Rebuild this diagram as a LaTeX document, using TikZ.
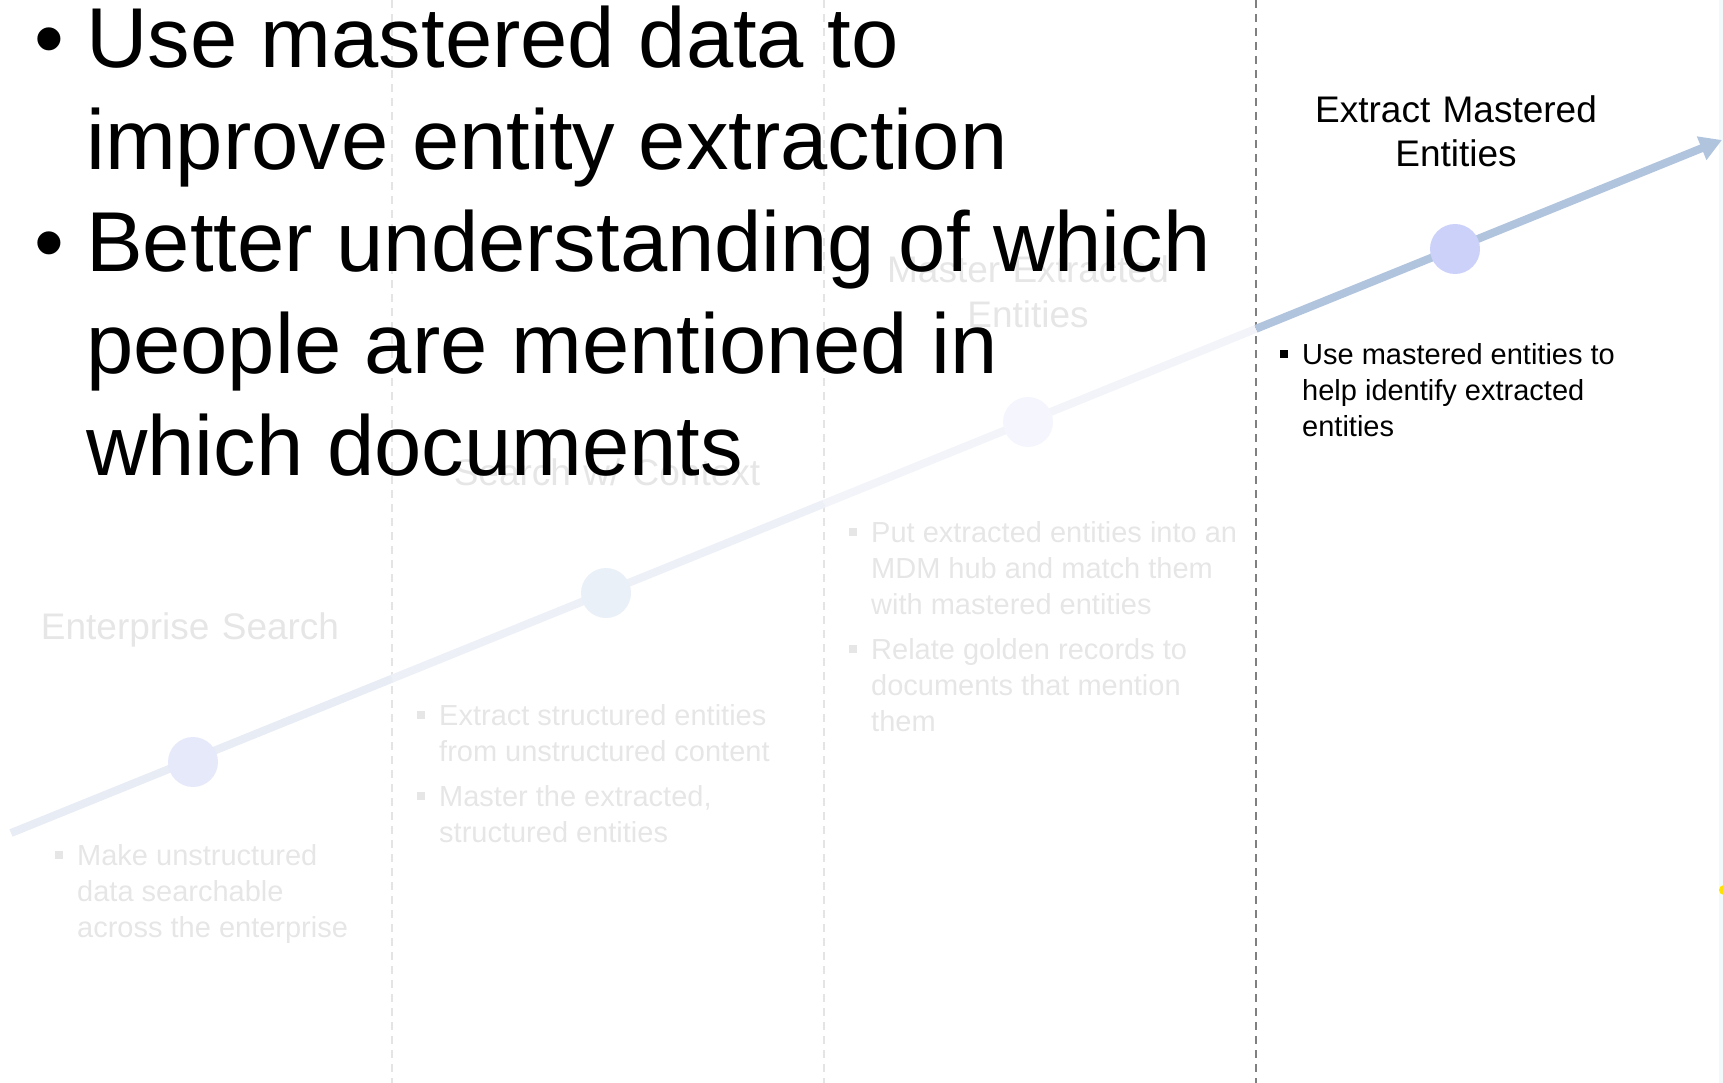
\documentclass[tikz,border=0pt]{standalone}
\usepackage{fontspec}
\setmainfont{Liberation Sans}
\usetikzlibrary{arrows.meta}
\definecolor{tlone}{RGB}{232,236,244}
\definecolor{tltwo}{RGB}{237,241,247}
\definecolor{tlthree}{RGB}{242,244,249}
\definecolor{tlfour}{RGB}{176,196,222}
\definecolor{dotone}{RGB}{230,233,250}
\definecolor{dottwo}{RGB}{234,240,248}
\definecolor{dotthree}{RGB}{245,246,253}
\definecolor{dotfour}{RGB}{204,209,250}
\definecolor{fadetext}{RGB}{230,230,230}
\definecolor{fadediv}{RGB}{228,228,228}
\definecolor{darkdiv}{RGB}{128,128,128}
\definecolor{edgecyan}{RGB}{240,250,250}
\newcommand{\sqitem}[1]{\spaceskip=0pt\xspaceskip=0pt\hangindent=22pt\hangafter=1\noindent\makebox[22pt][l]{\rule[6pt]{8pt}{8pt}}#1\par\vspace{9pt}}
\newcommand{\bigitem}[1]{\spaceskip=0pt\xspaceskip=0pt\hangindent=52pt\hangafter=1\noindent\makebox[52pt][l]{\textbullet}#1\par}

\begin{document}
\begin{tikzpicture}[x=1pt,y=-1pt,
    stagedot/.style={circle,fill=#1,minimum size=50pt,inner sep=0pt},
    stagehead/.style={text width=440pt,align=center,anchor=base,inner sep=0pt,font=\fontsize{37}{44}\selectfont},
    stagenote/.style={text width=410pt,align=left,anchor=base west,inner sep=0pt,font=\fontsize{29}{36}\selectfont},
    goal/.style={text width=1400pt,align=left,anchor=base west,inner sep=0pt,font=\fontsize{85}{102}\selectfont},
    divider/.style={line width=2pt,dash pattern=on 8pt off 6pt},
    timeline/.style={line width=8pt}]
  \useasboundingbox (0,0) rectangle (1723,1083);
  \fill[edgecyan] (1719,0) rectangle (1723,1083);
  \fill[yellow!85!orange] (1724,890) circle (5);

  \draw[divider,fadediv] (392,0) -- (392,1083);
  \draw[divider,fadediv] (824,0) -- (824,1083);
  \draw[divider,darkdiv] (1256,0) -- (1256,1083);

  \coordinate (start) at (11,833);
  \coordinate (cut1) at (392,678.7);
  \coordinate (cut2) at (824,503.7);
  \coordinate (cut3) at (1256,328.8);
  \coordinate (end) at (1722,140);
  \draw[timeline,tlone] (start) -- (cut1);
  \draw[timeline,tltwo] (cut1) -- (cut2);
  \draw[timeline,tlthree] (cut2) -- (cut3);
  \draw[timeline,tlfour,-{Triangle[length=22pt,width=24pt]}] (cut3) -- (end);

  \node[stagedot=dotone] (search) at (193,762) {};
  \node[stagedot=dottwo] (context) at (606,593) {};
  \node[stagedot=dotthree] (master) at (1028,422) {};
  \node[stagedot=dotfour] (extract) at (1455,249) {};

  \node[stagehead,text=fadetext] (searchhead) at (190,639) {Enterprise Search};
  \node[stagehead,text=fadetext] (contexthead) at (607,485) {Search w/ Context};
  \node[stagehead,text=fadetext] (masterhead) at (1028,283) {Master Extracted\\Entities};
  \node[stagehead] (extracthead) at (1456,123) {Extract Mastered\\Entities};

  \node[stagenote,text=fadetext] (searchnote) at (55,865) {%
    \sqitem{Make unstructured\newline data searchable\newline across the enterprise}};
  \node[stagenote,text=fadetext] (contextnote) at (417,725) {%
    \sqitem{Extract structured entities\newline from unstructured content}%
    \sqitem{Master the extracted,\newline structured entities}};
  \node[stagenote,text=fadetext] (masternote) at (849,542) {%
    \sqitem{Put extracted entities into an\newline MDM hub and match them\newline with mastered entities}%
    \sqitem{Relate golden records to\newline documents that mention\newline them}};
  \node[stagenote] (extractnote) at (1280,364) {%
    \sqitem{Use mastered entities to\newline help identify extracted\newline entities}};

  \node[goal] (goals) at (34,68) {%
    \bigitem{Use mastered data to\newline improve entity extraction}%
    \bigitem{Better understanding of which\newline people are mentioned in\newline which documents}};
\end{tikzpicture}
\end{document}
